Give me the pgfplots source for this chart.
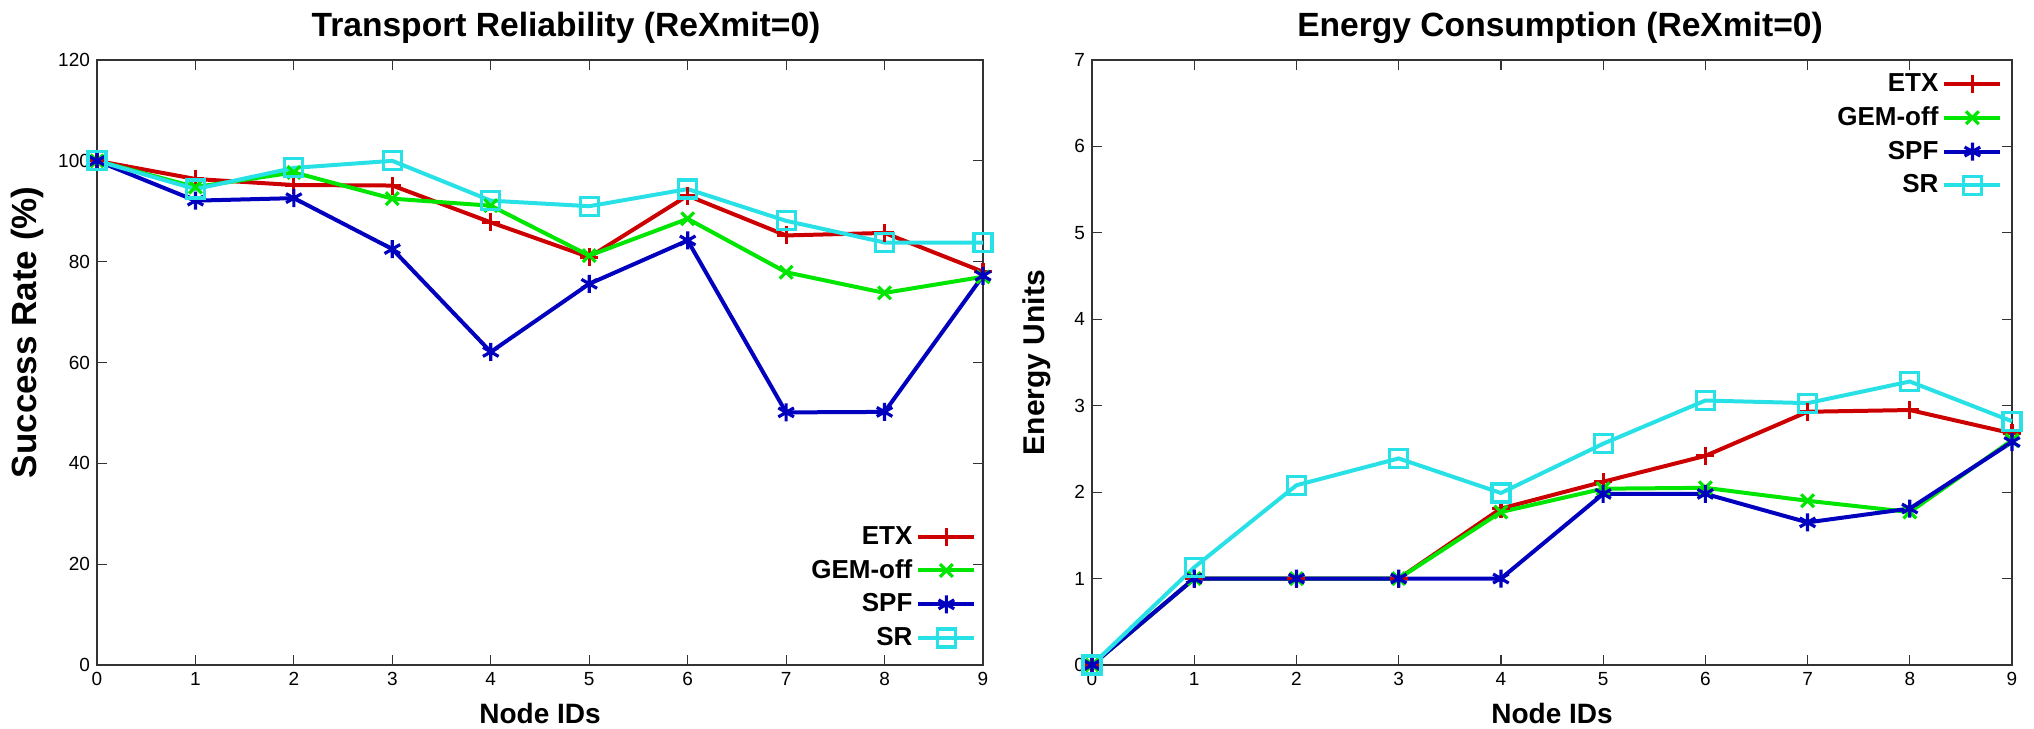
\documentclass[border=0pt]{standalone}
\usepackage{fontspec}
\setmainfont{Liberation Sans}
\usepackage{pgfplots}
\pgfplotsset{compat=1.18}
\definecolor{cetx}{RGB}{204,0,0}
\definecolor{cgem}{RGB}{0,230,0}
\definecolor{cspf}{RGB}{0,0,190}
\definecolor{csr}{RGB}{40,225,230}

\pgfplotsset{
  gp/.style={
    scale only axis,
    xmin=0, xmax=9,
    xtick={0,...,9},
    clip=false,
    axis line style={black!80, line width=0.6pt},
    tick style={black!80, line width=0.6pt},
    major tick length=5pt,
    tick align=inside,
    /pgf/number format/assume math mode=true,
    tick label style={font=\fontsize{9.5}{10}\selectfont},
    title style={font=\fontsize{16.8}{19}\selectfont\bfseries, at={(0.5,1)}, anchor=center, yshift=10pt},
    xlabel style={font=\fontsize{14}{16}\selectfont\bfseries, at={(axis description cs:0.5,0)}, anchor=center, yshift=-24pt},
    ylabel style={font=\fontsize{15}{18}\selectfont\bfseries, anchor=center},
    legend style={draw=none, fill=none, font=\fontsize{13}{15}\selectfont\bfseries,
      row sep=2.2pt, inner sep=0pt},
    legend plot pos=right,
    legend cell align=right,
    legend image code/.code={\draw[mark repeat=2,mark phase=2] plot coordinates {(0pt,0pt) (14pt,0pt) (28pt,0pt)};},
    every axis plot/.append style={line width=2pt, mark size=4.5pt, mark options={solid, line width=1.6pt}},
  },
}

\pgfplotstableread{
id etx gem spf sr
0 100 100 100 100
1 96.4 94.8 92.1 94.4
2 95.2 97.7 92.6 98.6
3 95.1 92.5 82.5 100
4 87.8 91.1 62.1 92.1
5 80.9 81.2 75.6 91.0
6 93.1 88.5 84.2 94.4
7 85.2 77.9 50.1 88.1
8 85.7 73.8 50.2 83.8
9 78.0 77.0 77.2 83.8
}\reliab

\pgfplotstableread{
id etx gem spf sr
0 0 0 0 0
1 1.0 1.0 1.0 1.13
2 1.0 1.0 1.0 2.08
3 1.0 1.0 1.0 2.39
4 1.81 1.77 1.0 1.99
5 2.12 2.04 1.98 2.56
6 2.42 2.05 1.98 3.06
7 2.93 1.90 1.65 3.03
8 2.95 1.77 1.81 3.28
9 2.68 2.60 2.58 2.82
}\energy

\begin{document}
\begin{tikzpicture}
\useasboundingbox (0,0) rectangle (1017pt,364pt);

\begin{axis}[gp,
  at={(48.5pt,31.5pt)}, anchor=south west,
  width=443pt, height=302.5pt,
  ymin=0, ymax=120, ytick={0,20,...,120},
  title={Transport Reliability (ReXmit=0)},
  title style={xshift=13pt},
  xlabel={Node IDs},
  ylabel={Success Rate (\%)},
  ylabel style={at={(axis description cs:-0.079,0.55)}, font=\fontsize{17.5}{20}\selectfont\bfseries},
  legend style={at={(0.993,0.02)}, anchor=south east},
]
\addplot[cetx, mark=+] table[x=id, y=etx] {\reliab};
\addlegendentry{ETX}
\addplot[cgem, mark=x] table[x=id, y=gem] {\reliab};
\addlegendentry{GEM-off}
\addplot[cspf, mark=asterisk] table[x=id, y=spf] {\reliab};
\addlegendentry{SPF}
\addplot[csr, mark=square] table[x=id, y=sr] {\reliab};
\addlegendentry{SR}
\end{axis}

\begin{axis}[gp,
  at={(546pt,31.5pt)}, anchor=south west,
  width=460pt, height=302.5pt,
  ymin=0, ymax=7, ytick={0,...,7},
  title={Energy Consumption (ReXmit=0)},
  title style={xshift=4pt},
  xlabel={Node IDs},
  ylabel={Energy Units},
  ylabel style={at={(axis description cs:-0.06,0.5)}},
  legend style={at={(0.99,0.985)}, anchor=north east},
]
\addplot[cetx, mark=+] table[x=id, y=etx] {\energy};
\addlegendentry{ETX}
\addplot[cgem, mark=x] table[x=id, y=gem] {\energy};
\addlegendentry{GEM-off}
\addplot[cspf, mark=asterisk] table[x=id, y=spf] {\energy};
\addlegendentry{SPF}
\addplot[csr, mark=square] table[x=id, y=sr] {\energy};
\addlegendentry{SR}
\end{axis}
\end{tikzpicture}
\end{document}
